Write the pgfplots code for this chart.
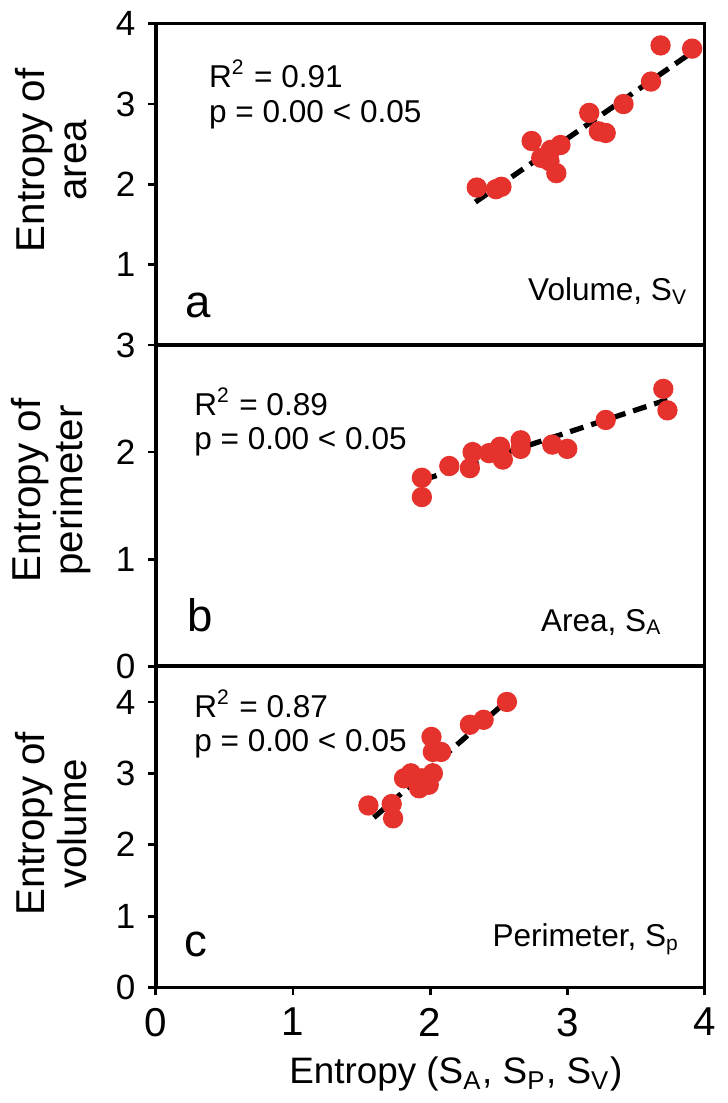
\documentclass[border=0pt]{standalone}
\usepackage{fontspec}
\setmainfont{Liberation Sans}
\usepackage{pgfplots}
\pgfplotsset{compat=1.18}
\definecolor{dotred}{RGB}{230,50,45}

\pgfplotsset{
  panel/.style={
    scale only axis, width=5.5cm, height=3.22cm,
    xmin=0, xmax=4,
    axis line style={line width=1pt},
    every tick/.style={black, line width=0.8pt},
    tick align=outside, major tick length=0.08cm,
    ytick pos=left,
    /pgf/number format/assume math mode=true,
    yticklabel style={font=\fontsize{10}{11}\selectfont},
    xticklabel style={font=\fontsize{11.5}{13}\selectfont},
    ylabel style={font=\fontsize{11.5}{12}\selectfont, align=center,
      at={(axis description cs:-0.19,#1)}, anchor=center},
    clip=false,
  },
  dots/.style={only marks, mark=*, mark size=2.7pt, color=dotred},
  fit/.style={no marks, black, line width=1.5pt, dash pattern=on 4pt off 2.3pt},
}
\tikzset{
  note/.style={anchor=north west, inner sep=0pt, align=left, font=\fontsize{9}{9.8}\selectfont},
  letter/.style={anchor=base west, inner sep=0pt, font=\fontsize{13}{14}\selectfont},
  tag/.style={anchor=base east, inner sep=0pt, font=\fontsize{9}{10}\selectfont},
}

\begin{document}
\begin{tikzpicture}
% panel a
\begin{axis}[panel=0.575, at={(0,6.44cm)}, ymin=0, ymax=4, ytick={1,2,3,4},
  xtick=\empty, ylabel={Entropy of\\area}]
\addplot[fit] coordinates {(2.33,1.78) (3.88,3.61)};
\addplot[dots] coordinates {
(2.34,1.96) (2.48,1.94) (2.52,1.97) (2.74,2.54) (2.81,2.33) (2.88,2.43)
(2.95,2.49) (2.87,2.29) (2.92,2.14) (3.16,2.89) (3.23,2.66) (3.28,2.64)
(3.41,3.00) (3.61,3.28) (3.68,3.73) (3.91,3.69)};
\node[note] at (rel axis cs:0.096,0.89) {R\textsuperscript{2} = 0.91\\p = 0.00 < 0.05};
\node[letter] at (rel axis cs:0.053,0.087) {a};
\node[tag] at (rel axis cs:0.971,0.137) {Volume, S\textsubscript{V}};
\end{axis}
% panel b
\begin{axis}[panel=0.547, at={(0,3.22cm)}, ymin=0, ymax=3, ytick={0,1,2,3},
  xtick=\empty, ylabel={Entropy of\\perimeter}]
\addplot[fit] coordinates {(1.95,1.74) (3.73,2.49)};
\addplot[dots] coordinates {
(1.94,1.76) (1.94,1.58) (2.14,1.87) (2.29,1.85) (2.31,2.00) (2.43,1.99)
(2.51,2.05) (2.53,1.93) (2.66,2.11) (2.66,2.03) (2.89,2.07) (3.00,2.03)
(3.28,2.30) (3.70,2.59) (3.73,2.39)};
\node[note] at (rel axis cs:0.069,0.87) {R\textsuperscript{2} = 0.89\\p = 0.00 < 0.05};
\node[letter] at (rel axis cs:0.056,0.109) {b};
\node[tag] at (rel axis cs:0.924,0.109) {Area, S\textsubscript{A}};
\end{axis}
% panel c
\begin{axis}[panel=0.51, at={(0,0)}, ymin=0, ymax=4.5, ytick={0,1,2,3,4},
  xtick={0,1,2,3,4}, xtick pos=bottom,
  ylabel={Entropy of\\volume},
  xlabel={Entropy (S\textsubscript{A}, S\textsubscript{P}, S\textsubscript{V})},
  xlabel style={font=\fontsize{10.5}{11}\selectfont, at={(ticklabel cs:0.547)}, anchor=north, yshift=1pt}]
\addplot[fit] coordinates {(1.59,2.38) (2.51,3.93)};
\addplot[dots] coordinates {
(1.55,2.55) (1.72,2.57) (1.73,2.37) (1.81,2.93) (1.86,3.00) (1.92,2.79)
(1.94,2.93) (1.99,2.84) (2.02,3.00) (2.01,3.51) (2.02,3.30) (2.08,3.30)
(2.29,3.68) (2.39,3.75) (2.56,4.00)};
\node[note] at (rel axis cs:0.069,0.93) {R\textsuperscript{2} = 0.87\\p = 0.00 < 0.05};
\node[letter] at (rel axis cs:0.051,0.096) {c};
\node[tag] at (rel axis cs:0.956,0.127) {Perimeter, S\textsubscript{p}};
\end{axis}
\end{tikzpicture}
\end{document}
